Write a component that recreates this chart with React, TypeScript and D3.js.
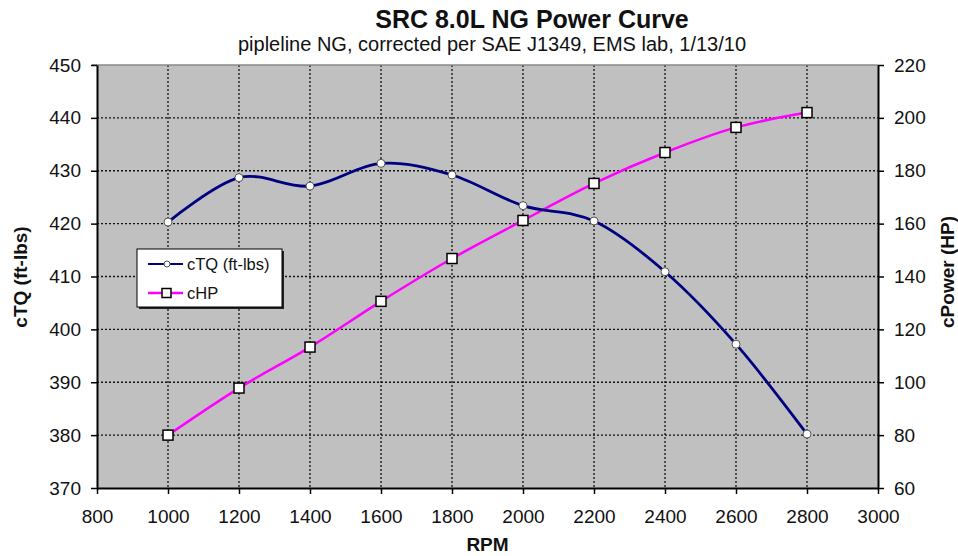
import React, { useEffect, useRef } from 'react';
import * as d3 from 'd3';

// data
const rpm = [1000, 1200, 1400, 1600, 1800, 2000, 2200, 2400, 2600, 2800];
const torque = [420.3, 428.7, 427.1, 431.4, 429.2, 423.4, 420.5, 410.9, 397.2, 380.2];
const horsepower = [80, 97.8, 113.3, 130.6, 146.8, 161.2, 175.2, 186.9, 196.4, 202.0];

const xTicks = [800, 1000, 1200, 1400, 1600, 1800, 2000, 2200, 2400, 2600, 2800, 3000];
const leftTicks = [370, 380, 390, 400, 410, 420, 430, 440, 450];
const rightTicks = [60, 80, 100, 120, 140, 160, 180, 200, 220];

const legendItems = ['cTQ (ft-lbs)', 'cHP'];

export default function App() {
  const svgRef = useRef<SVGSVGElement>(null);

  useEffect(() => {
    if (!svgRef.current) return;
    const svg = d3.select(svgRef.current);
    svg.selectAll('*').remove();

    const width = 958;
    const height = 556;
    const margin = { top: 65, right: 80, bottom: 68, left: 97 };
    const font = 'Liberation Sans, Arial, sans-serif';

    const x = d3.scaleLinear().domain([800, 3000]).range([margin.left, width - margin.right]);
    const yL = d3.scaleLinear().domain([370, 450]).range([height - margin.bottom, margin.top]);
    const yR = d3.scaleLinear().domain([60, 220]).range([height - margin.bottom, margin.top]);

    const x0 = x.range()[0], x1 = x.range()[1];
    const yb = yL.range()[0], yt = yL.range()[1];

    svg.append('rect').attr('width', width).attr('height', height).attr('fill', '#ffffff');

    // plot area
    svg.append('rect')
      .attr('x', x0).attr('y', yt)
      .attr('width', x1 - x0).attr('height', yb - yt)
      .attr('fill', '#c0c0c0');

    // grid
    const grid = svg.append('g').attr('stroke', '#111').attr('stroke-width', 1.3).attr('stroke-dasharray', '2,2');
    grid.selectAll('.gx')
      .data(xTicks.filter(t => t > 800 && t < 3000))
      .enter().append('line')
      .attr('x1', d => x(d)).attr('x2', d => x(d))
      .attr('y1', yt).attr('y2', yb);
    grid.selectAll('.gy')
      .data(leftTicks.filter(t => t > 370 && t < 450))
      .enter().append('line')
      .attr('x1', x0).attr('x2', x1)
      .attr('y1', d => yL(d)).attr('y2', d => yL(d));

    // top border
    svg.append('line')
      .attr('x1', x0 - 5).attr('x2', x1)
      .attr('y1', yt).attr('y2', yt)
      .attr('stroke', '#8a8a8a').attr('stroke-width', 1.5);

    // axes
    const axisBottom = svg.append('g')
      .attr('transform', `translate(0, ${yb})`)
      .call(d3.axisBottom(x).tickValues(xTicks).tickFormat(d3.format('d')).tickSize(6).tickSizeOuter(0).tickPadding(16));
    const axisLeft = svg.append('g')
      .attr('transform', `translate(${x0}, 0)`)
      .call(d3.axisLeft(yL).tickValues(leftTicks).tickSize(6).tickSizeOuter(0).tickPadding(10));
    const axisRight = svg.append('g')
      .attr('transform', `translate(${x1}, 0)`)
      .call(d3.axisRight(yR).tickValues(rightTicks).tickSize(6).tickSizeOuter(0).tickPadding(10));

    [axisBottom, axisLeft, axisRight].forEach(a => {
      a.select('.domain').attr('stroke', '#000').attr('stroke-width', 2);
      a.selectAll('.tick line').attr('stroke', '#000').attr('stroke-width', 1.5);
      a.selectAll('.tick text')
        .attr('font-family', font)
        .attr('font-size', '19px')
        .attr('fill', '#111');
    });
    axisBottom.selectAll('.tick text').attr('dy', '0.71em');

    const tqData = rpm.map((r, i) => ({ r, v: torque[i] }));
    const hpData = rpm.map((r, i) => ({ r, v: horsepower[i] }));

    const tqLine = d3.line<{ r: number; v: number }>()
      .x(d => x(d.r)).y(d => yL(d.v))
      .curve(d3.curveCatmullRom.alpha(0));
    const hpLine = d3.line<{ r: number; v: number }>()
      .x(d => x(d.r)).y(d => yR(d.v))
      .curve(d3.curveCatmullRom.alpha(0));

    svg.append('path')
      .datum(hpData)
      .attr('d', hpLine)
      .attr('fill', 'none')
      .attr('stroke', '#ff00ff')
      .attr('stroke-width', 2.5);

    svg.append('path')
      .datum(tqData)
      .attr('d', tqLine)
      .attr('fill', 'none')
      .attr('stroke', '#000080')
      .attr('stroke-width', 2.8);

    svg.selectAll('.tq-pt')
      .data(tqData)
      .enter().append('circle')
      .attr('cx', d => x(d.r)).attr('cy', d => yL(d.v))
      .attr('r', 4)
      .attr('fill', '#ffffff')
      .attr('stroke', '#555')
      .attr('stroke-width', 1);

    svg.selectAll('.hp-pt')
      .data(hpData)
      .enter().append('rect')
      .attr('x', d => x(d.r) - 5).attr('y', d => yR(d.v) - 5)
      .attr('width', 10).attr('height', 10)
      .attr('fill', '#ffffff')
      .attr('stroke', '#000')
      .attr('stroke-width', 1.5);

    // legend
    const lg = svg.append('g').attr('transform', 'translate(137, 249)');
    lg.append('rect').attr('x', 2).attr('y', 2).attr('width', 145).attr('height', 58).attr('fill', '#222');
    lg.append('rect').attr('width', 145).attr('height', 58).attr('fill', '#fff').attr('stroke', '#000').attr('stroke-width', 1);
    legendItems.forEach((name, i) => {
      const cy = 15 + i * 29;
      lg.append('line')
        .attr('x1', 11).attr('x2', 46).attr('y1', cy).attr('y2', cy)
        .attr('stroke', i === 0 ? '#000080' : '#ff00ff')
        .attr('stroke-width', i === 0 ? 2 : 2.5);
      if (i === 0) {
        lg.append('circle').attr('cx', 30).attr('cy', cy).attr('r', 3)
          .attr('fill', '#fff').attr('stroke', '#555');
      } else {
        lg.append('rect').attr('x', 25).attr('y', cy - 4.5).attr('width', 9).attr('height', 9)
          .attr('fill', '#fff').attr('stroke', '#000').attr('stroke-width', 1.5);
      }
      lg.append('text')
        .attr('x', 50).attr('y', cy)
        .attr('dominant-baseline', 'central')
        .attr('font-family', font)
        .attr('font-size', '16.5px')
        .attr('fill', '#111')
        .text(name);
    });

    // titles
    svg.append('text')
      .attr('x', 532).attr('y', 28)
      .attr('text-anchor', 'middle')
      .attr('font-family', font).attr('font-size', '25px').attr('font-weight', 'bold')
      .attr('fill', '#111')
      .text('SRC 8.0L NG Power Curve');
    svg.append('text')
      .attr('x', 492).attr('y', 51)
      .attr('text-anchor', 'middle')
      .attr('font-family', font).attr('font-size', '20px')
      .attr('fill', '#111')
      .text('pipleline NG, corrected per SAE J1349, EMS lab, 1/13/10');

    svg.append('text')
      .attr('x', (x0 + x1) / 2).attr('y', 551)
      .attr('text-anchor', 'middle')
      .attr('font-family', font).attr('font-size', '19px').attr('font-weight', 'bold')
      .attr('fill', '#111')
      .text('RPM');

    svg.append('text')
      .attr('transform', 'translate(27, 277) rotate(-90)')
      .attr('text-anchor', 'middle')
      .attr('font-family', font).attr('font-size', '19px').attr('font-weight', 'bold')
      .attr('fill', '#111')
      .text('cTQ (ft-lbs)');

    svg.append('text')
      .attr('transform', 'translate(954, 272) rotate(-90)')
      .attr('text-anchor', 'middle')
      .attr('font-family', font).attr('font-size', '19px').attr('font-weight', 'bold')
      .attr('fill', '#111')
      .text('cPower (HP)');
  }, []);

  return (
    <div style={{ position: 'absolute', left: 0, top: 0 }}>
      <svg ref={svgRef} width={958} height={556} style={{ display: 'block' }} />
    </div>
  );
}
